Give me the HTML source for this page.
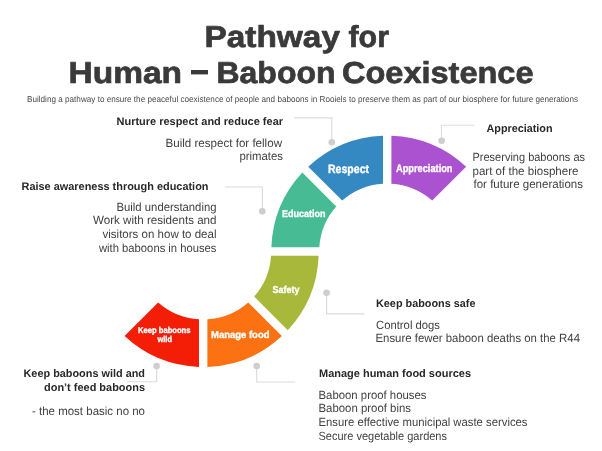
<!DOCTYPE html>
<html><head><meta charset="utf-8"><title>Pathway for Human – Baboon Coexistence</title><style>
html,body{margin:0;padding:0;background:#fff;width:602px;height:451px;overflow:hidden}
svg{display:block;will-change:transform}
text{font-family:"Liberation Sans",sans-serif;text-rendering:geometricPrecision}
</style></head><body>
<svg width="602" height="451" viewBox="0 0 602 451">
<rect width="602" height="451" fill="#ffffff"/>
<rect x="191" y="70" width="17" height="4.4" fill="#3a3a3a"/>
<path d="M294.2 117.8 L331.8 117.8 L331.8 142.2" fill="none" stroke="#dcdcdc" stroke-width="1.15"/>
<circle cx="331.8" cy="142.2" r="3.3" fill="#cecece"/>
<path d="M474.4 125.2 L441.5 125.2 L441.5 140.7" fill="none" stroke="#dcdcdc" stroke-width="1.15"/>
<circle cx="441.6" cy="140.7" r="3.3" fill="#cecece"/>
<path d="M225.2 187.0 L262.4 187.0 L262.4 211.3" fill="none" stroke="#dcdcdc" stroke-width="1.15"/>
<circle cx="262.3" cy="211.3" r="3.3" fill="#cecece"/>
<path d="M326.6 292.8 L326.6 313.8 L364.5 313.8" fill="none" stroke="#dcdcdc" stroke-width="1.15"/>
<circle cx="326.6" cy="292.8" r="3.3" fill="#cecece"/>
<path d="M256.7 366 L256.7 382 L295.3 382" fill="none" stroke="#dcdcdc" stroke-width="1.15"/>
<circle cx="256.7" cy="366" r="3.3" fill="#cecece"/>
<path d="M156.6 366.1 L156.6 381.7 L127.2 381.7" fill="none" stroke="#dcdcdc" stroke-width="1.15"/>
<circle cx="156.6" cy="366.1" r="3.3" fill="#cecece"/>
<path fill="#47bc94" d="M302.33 172.57 A115.9 115.9 0 0 0 271.38 247.30 L319.33 247.30 A68.0 68.0 0 0 1 336.24 206.48 Z"/>
<path fill="#3589c2" d="M383.00 135.68 A115.9 115.9 0 0 0 308.27 166.63 L342.18 200.54 A68.0 68.0 0 0 1 383.00 183.63 Z"/>
<path fill="#ab52d0" d="M466.13 166.63 A115.9 115.9 0 0 0 391.40 135.68 L391.40 183.63 A68.0 68.0 0 0 1 432.22 200.54 Z"/>
<path fill="#a8b83a" d="M287.79 330.15 A115.5 115.5 0 0 0 318.62 255.70 L271.07 255.70 A68.0 68.0 0 0 1 254.16 296.52 Z"/>
<path fill="#fc7112" d="M207.40 366.92 A115.5 115.5 0 0 0 281.85 336.09 L248.22 302.46 A68.0 68.0 0 0 1 207.40 319.37 Z"/>
<path fill="#f41d06" d="M124.55 336.09 A115.5 115.5 0 0 0 199.00 366.92 L199.00 319.37 A68.0 68.0 0 0 1 158.18 302.46 Z"/>
<text x="204.50" y="47.00" font-size="30.3" font-weight="bold" fill="#3a3a3a" stroke="#3a3a3a" stroke-width="0.7" stroke-linejoin="round" textLength="135.50" lengthAdjust="spacingAndGlyphs">Pathway</text>
<text x="348.50" y="47.00" font-size="30.3" font-weight="bold" fill="#3a3a3a" stroke="#3a3a3a" stroke-width="0.7" stroke-linejoin="round" textLength="40.50" lengthAdjust="spacingAndGlyphs">for</text>
<text x="68.50" y="83.00" font-size="30.3" font-weight="bold" fill="#3a3a3a" stroke="#3a3a3a" stroke-width="0.7" stroke-linejoin="round" textLength="113.50" lengthAdjust="spacingAndGlyphs">Human</text>
<text x="216.50" y="83.00" font-size="30.3" font-weight="bold" fill="#3a3a3a" stroke="#3a3a3a" stroke-width="0.7" stroke-linejoin="round" textLength="119.00" lengthAdjust="spacingAndGlyphs">Baboon</text>
<text x="342.00" y="83.00" font-size="30.3" font-weight="bold" fill="#3a3a3a" stroke="#3a3a3a" stroke-width="0.7" stroke-linejoin="round" textLength="191.50" lengthAdjust="spacingAndGlyphs">Coexistence</text>
<text x="27.00" y="101.70" font-size="8.7" font-weight="normal" fill="#4a4a4a" textLength="551.00" lengthAdjust="spacingAndGlyphs">Building a pathway to ensure the peaceful coexistence of people and baboons in Rooiels to preserve them as part of our biosphere for future generations</text>
<text x="116.50" y="125.00" font-size="11" font-weight="bold" fill="#282828" textLength="166.50" lengthAdjust="spacingAndGlyphs">Nurture respect and reduce fear</text>
<text x="165.50" y="147.00" font-size="11.9" font-weight="normal" fill="#3f3f3f" textLength="116.50" lengthAdjust="spacingAndGlyphs">Build respect for fellow</text>
<text x="239.50" y="160.00" font-size="11.9" font-weight="normal" fill="#3f3f3f" textLength="43.50" lengthAdjust="spacingAndGlyphs">primates</text>
<text x="486.50" y="132.00" font-size="11" font-weight="bold" fill="#282828" textLength="66.00" lengthAdjust="spacingAndGlyphs">Appreciation</text>
<text x="472.50" y="161.00" font-size="11.9" font-weight="normal" fill="#3f3f3f" textLength="112.50" lengthAdjust="spacingAndGlyphs">Preserving baboons as</text>
<text x="472.50" y="175.00" font-size="11.9" font-weight="normal" fill="#3f3f3f" textLength="106.00" lengthAdjust="spacingAndGlyphs">part of the biosphere</text>
<text x="473.50" y="188.00" font-size="11.9" font-weight="normal" fill="#3f3f3f" textLength="109.50" lengthAdjust="spacingAndGlyphs">for future generations</text>
<text x="21.50" y="190.00" font-size="11" font-weight="bold" fill="#282828" textLength="187.00" lengthAdjust="spacingAndGlyphs">Raise awareness through education</text>
<text x="116.50" y="211.00" font-size="11.9" font-weight="normal" fill="#3f3f3f" textLength="100.00" lengthAdjust="spacingAndGlyphs">Build understanding</text>
<text x="93.00" y="224.00" font-size="11.9" font-weight="normal" fill="#3f3f3f" textLength="123.50" lengthAdjust="spacingAndGlyphs">Work with residents and</text>
<text x="102.50" y="238.00" font-size="11.9" font-weight="normal" fill="#3f3f3f" textLength="114.00" lengthAdjust="spacingAndGlyphs">visitors on how to deal</text>
<text x="99.00" y="252.00" font-size="11.9" font-weight="normal" fill="#3f3f3f" textLength="117.50" lengthAdjust="spacingAndGlyphs">with baboons in houses</text>
<text x="376.00" y="307.00" font-size="11" font-weight="bold" fill="#282828" textLength="99.50" lengthAdjust="spacingAndGlyphs">Keep baboons safe</text>
<text x="376.00" y="329.00" font-size="11.9" font-weight="normal" fill="#3f3f3f" textLength="64.00" lengthAdjust="spacingAndGlyphs">Control dogs</text>
<text x="375.50" y="342.00" font-size="11.9" font-weight="normal" fill="#3f3f3f" textLength="204.50" lengthAdjust="spacingAndGlyphs">Ensure fewer baboon deaths on the R44</text>
<text x="319.00" y="377.00" font-size="11" font-weight="bold" fill="#282828" textLength="152.00" lengthAdjust="spacingAndGlyphs">Manage human food sources</text>
<text x="318.50" y="399.00" font-size="11.9" font-weight="normal" fill="#3f3f3f" textLength="108.00" lengthAdjust="spacingAndGlyphs">Baboon proof houses</text>
<text x="318.50" y="412.00" font-size="11.9" font-weight="normal" fill="#3f3f3f" textLength="92.50" lengthAdjust="spacingAndGlyphs">Baboon proof bins</text>
<text x="318.50" y="426.00" font-size="11.9" font-weight="normal" fill="#3f3f3f" textLength="209.00" lengthAdjust="spacingAndGlyphs">Ensure effective municipal waste services</text>
<text x="318.50" y="440.00" font-size="11.9" font-weight="normal" fill="#3f3f3f" textLength="128.50" lengthAdjust="spacingAndGlyphs">Secure vegetable gardens</text>
<text x="23.50" y="377.00" font-size="11" font-weight="bold" fill="#282828" textLength="121.50" lengthAdjust="spacingAndGlyphs">Keep baboons wild and</text>
<text x="44.00" y="391.00" font-size="11" font-weight="bold" fill="#282828" textLength="101.00" lengthAdjust="spacingAndGlyphs">don’t feed baboons</text>
<text x="32.00" y="415.00" font-size="11.9" font-weight="normal" fill="#3f3f3f" textLength="113.00" lengthAdjust="spacingAndGlyphs">- the most basic no no</text>
<text x="328.00" y="173.00" font-size="12" font-weight="bold" fill="#ffffff" stroke="#ffffff" stroke-width="0.35" stroke-linejoin="round" textLength="41.00" lengthAdjust="spacingAndGlyphs">Respect</text>
<text x="396.00" y="172.00" font-size="11" font-weight="bold" fill="#ffffff" stroke="#ffffff" stroke-width="0.35" stroke-linejoin="round" textLength="56.50" lengthAdjust="spacingAndGlyphs">Appreciation</text>
<text x="282.00" y="217.00" font-size="10" font-weight="bold" fill="#ffffff" stroke="#ffffff" stroke-width="0.35" stroke-linejoin="round" textLength="43.50" lengthAdjust="spacingAndGlyphs">Education</text>
<text x="272.50" y="293.00" font-size="10" font-weight="bold" fill="#ffffff" stroke="#ffffff" stroke-width="0.35" stroke-linejoin="round" textLength="27.00" lengthAdjust="spacingAndGlyphs">Safety</text>
<text x="211.00" y="338.00" font-size="10" font-weight="bold" fill="#ffffff" stroke="#ffffff" stroke-width="0.35" stroke-linejoin="round" textLength="58.50" lengthAdjust="spacingAndGlyphs">Manage food</text>
<text x="138.00" y="333.00" font-size="8.5" font-weight="bold" fill="#ffffff" stroke="#ffffff" stroke-width="0.35" stroke-linejoin="round" textLength="52.50" lengthAdjust="spacingAndGlyphs">Keep baboons</text>
<text x="157.50" y="342.00" font-size="8.5" font-weight="bold" fill="#ffffff" stroke="#ffffff" stroke-width="0.35" stroke-linejoin="round" textLength="14.50" lengthAdjust="spacingAndGlyphs">wild</text>
</svg>
</body></html>
